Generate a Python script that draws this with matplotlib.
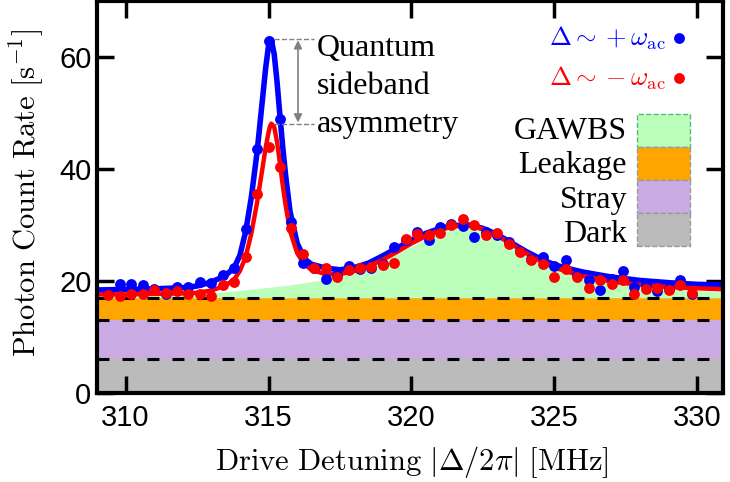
import numpy as np
import matplotlib
matplotlib.use("Agg")
import matplotlib.pyplot as plt
from matplotlib.patches import Rectangle

plt.rcParams['mathtext.fontset'] = 'cm'
plt.rcParams['lines.scale_dashes'] = False

# measured points, drive detuning in MHz
det = [309.4, 309.8, 310.2, 310.6, 311.0, 311.4, 311.8, 312.2, 312.6, 313.0,
       313.4, 313.8, 314.2, 314.6, 315.0, 315.4, 315.8, 316.2, 316.6, 317.0,
       317.4, 317.8, 318.2, 318.6, 319.0, 319.4, 319.8, 320.2, 320.6, 321.0,
       321.4, 321.8, 322.2, 322.6, 323.0, 323.4, 323.8, 324.2, 324.6, 325.0,
       325.4, 325.8, 326.2, 326.6, 327.0, 327.4, 327.8, 328.2, 328.6, 329.0,
       329.4, 329.8]
rate_plus = [17.8, 19.5, 19.4, 19.2, 18.6, 17.7, 19.0, 18.9, 19.9, 19.6,
             21.1, 22.3, 29.2, 43.5, 62.8, 48.9, 30.5, 23.3, 22.3, 20.4,
             21.1, 22.7, 22.1, 22.4, 23.1, 26.1, 27.3, 28.7, 27.3, 29.7,
             30.1, 29.8, 27.9, 28.7, 28.2, 26.9, 25.4, 24.0, 24.2, 22.6,
             23.7, 21.1, 20.1, 18.4, 20.4, 21.7, 19.0, 19.2, 18.3, 18.6,
             20.2, 17.6]
rate_minus = [17.5, 17.3, 17.6, 17.7, 18.4, 17.9, 18.3, 17.7, 17.6, 17.4,
              19.2, 19.9, 24.2, 35.5, 43.9, 40.3, 29.4, 24.8, 22.3, 22.4,
              20.8, 22.0, 22.3, 22.5, 22.9, 23.3, 27.5, 28.4, 28.2, 28.5,
              30.0, 31.0, 30.0, 28.2, 28.5, 26.6, 25.2, 23.7, 23.1, 20.8,
              22.1, 20.7, 18.8, 20.1, 19.4, 20.2, 17.7, 18.6, 18.7, 18.4,
              19.2, 17.8]

# fit curves
fit_det = [309.0, 310.0, 311.0, 312.0, 312.5, 313.0, 313.5, 313.8, 314.0, 314.2,
           314.4, 314.6, 314.8, 314.9, 315.0, 315.05, 315.1, 315.2, 315.3, 315.4,
           315.5, 315.6, 315.75, 316.0, 316.25, 316.5, 317.0, 317.5, 318.0, 318.5,
           319.0, 319.5, 320.0, 320.5, 321.0, 321.5, 322.0, 322.5, 323.0, 323.5,
           324.0, 324.5, 325.0, 325.5, 326.0, 327.0, 328.0, 329.0, 330.0, 331.0]
fit_plus = [18.4, 18.5, 18.6, 18.8, 19.1, 19.8, 21.0, 22.4, 24.6, 28.8,
            35.0, 43.0, 53.0, 58.0, 62.0, 63.2, 63.0, 60.5, 55.5, 49.5,
            43.8, 38.8, 32.5, 26.8, 24.0, 23.0, 22.3, 22.0, 22.4, 23.2,
            24.5, 25.9, 27.3, 28.5, 29.4, 29.9, 30.0, 29.4, 28.3, 26.8,
            25.3, 24.0, 22.9, 22.2, 21.6, 20.7, 20.1, 19.7, 19.4, 19.3]
fit_minus = [17.6, 17.6, 17.7, 17.8, 17.9, 18.3, 19.2, 20.3, 21.8, 24.3,
             28.5, 34.0, 40.5, 43.8, 46.5, 47.6, 48.1, 47.5, 44.8, 41.0,
             37.0, 33.5, 29.0, 25.0, 23.0, 22.0, 21.2, 21.2, 21.8, 22.6,
             23.8, 25.2, 26.7, 28.0, 29.1, 29.8, 29.9, 29.3, 28.1, 26.6,
             25.0, 23.6, 22.4, 21.6, 20.9, 19.9, 19.3, 18.9, 18.7, 18.5]
gawbs_top = [17.2, 17.3, 17.4, 17.6, 17.7, 17.9, 18.1, 18.25, 18.35, 18.45,
             18.55, 18.65, 18.75, 18.8, 18.85, 18.9, 18.9, 19.0, 19.05, 19.1,
             19.15, 19.2, 19.3, 19.5, 19.7, 19.9, 20.3, 20.8, 21.5, 22.3,
             23.4, 24.8, 26.2, 27.5, 28.6, 29.3, 29.4, 28.9, 27.8, 26.3,
             24.8, 23.4, 22.2, 21.3, 20.6, 19.6, 19.0, 18.6, 18.3, 18.1]

# background levels (s^-1)
dark_level = 6
stray_level = 13
leak_level = 17

bands = ['GAWBS', 'Leakage', 'Stray', 'Dark']
band_colors = ['#bbffbb', '#ffa500', '#c9aae3', '#bbbbbb']
band_edges = ['#55bb77', '#999999', '#999999', '#999999']

serif = 'Liberation Serif'

fig = plt.figure(figsize=(7.3, 4.82), dpi=100)
ax = fig.add_axes([97 / 730, 1 - 393 / 482, 626 / 730, 392 / 482])
ax.set_xlim(309, 330.9)
ax.set_ylim(0, 70)

ax.axhspan(0, dark_level, color=band_colors[3], lw=0, zorder=0)
ax.axhspan(dark_level, stray_level, color=band_colors[2], lw=0, zorder=0)
ax.axhspan(stray_level, leak_level, color=band_colors[1], lw=0, zorder=0)
ax.fill_between(fit_det, leak_level, gawbs_top, color=band_colors[0], lw=0, zorder=0)
for lev in [dark_level, stray_level, leak_level]:
    ax.axhline(lev, color='black', lw=2.2, dashes=(8.6, 9.4), zorder=1)

ax.plot(fit_det, fit_plus, color='blue', lw=4.0, zorder=2)
ax.plot(fit_det, fit_minus, color='red', lw=3.2, zorder=3)
ax.plot(det, rate_plus, 'o', color='blue', ms=7.8, mec='none', zorder=4)
ax.plot(det, rate_minus, 'o', color='red', ms=7.8, mec='none', zorder=5)

# pixel helper for annotations
def px(x, y):
    return ax.transData.inverted().transform((x, 482 - y))

# asymmetry annotation
top_peak = max(fit_plus)
bot_peak = max(fit_minus)
x_a, _ = px(274, 0)
x_b, _ = px(314, 0)
x_arr, _ = px(298, 0)
ax.plot([x_a, x_b], [top_peak, top_peak], color='gray', lw=1, ls='--', zorder=6)
ax.plot([x_a, x_b], [bot_peak, bot_peak], color='gray', lw=1, ls='--', zorder=6)
ax.annotate('', xy=(x_arr, top_peak - 0.2), xytext=(x_arr, bot_peak + 0.2),
            arrowprops=dict(arrowstyle='<|-|>', color='gray', lw=1.2,
                            mutation_scale=12, shrinkA=0, shrinkB=0))
for i, word in enumerate(['Quantum', 'sideband', 'asymmetry']):
    tx, ty = px(317, 56 + 38 * i)
    ax.text(tx, ty, word, family=serif, fontsize=23, va='baseline', ha='left')

# data legend
for lab, col, ycen in [(r'$\Delta\sim+\omega_{\rm ac}$', 'blue', 38),
                       (r'$\Delta\sim-\omega_{\rm ac}$', 'red', 78)]:
    tx, ty = px(666, ycen)
    ax.text(tx, ty, lab, color=col, fontsize=19, ha='right', va='center')
    mx, my = px(679, ycen)
    ax.plot([mx], [my], 'o', color=col, ms=7.8, mec='none', clip_on=False)

# background legend
for i, (lab, fc, ec) in enumerate(zip(bands, band_colors, band_edges)):
    x0, y0 = px(637, 114 + 33 * (i + 1))
    x1, y1 = px(690, 114 + 33 * i)
    ax.add_patch(Rectangle((x0, y0), x1 - x0, y1 - y0, facecolor=fc,
                           edgecolor=ec, lw=1, ls='--', zorder=6))
    tx, ty = px(627, 139 + 34.3 * i)
    ax.text(tx, ty, lab, family=serif, fontsize=23, ha='right', va='baseline')

ax.set_xticks([310, 315, 320, 325, 330])
ax.set_yticks([0, 20, 40, 60])
ax.tick_params(direction='in', length=12, width=2.5, top=True, right=True,
               labelsize=21)
ax.tick_params(axis='x', pad=8)
ax.tick_params(axis='y', pad=4)
for lbl in ax.get_xticklabels() + ax.get_yticklabels():
    lbl.set_family('Liberation Sans')
for sp in ax.spines.values():
    sp.set_linewidth(3)
    sp.set_zorder(10)

ax.set_xlabel(r'$\mathrm{Drive\ Detuning\ }|\Delta/2\pi|\mathrm{\ [MHz]}$', fontsize=22)
ax.set_ylabel(r'$\mathrm{Photon\ Count\ Rate\ [s^{-1}]}$', fontsize=22)
ax.xaxis.set_label_coords((412 - 97) / 626, (393 - 444) / 392)
ax.yaxis.set_label_coords((47 - 97) / 626, (393 - 193) / 392)

fig.savefig('out.png', dpi=100)
